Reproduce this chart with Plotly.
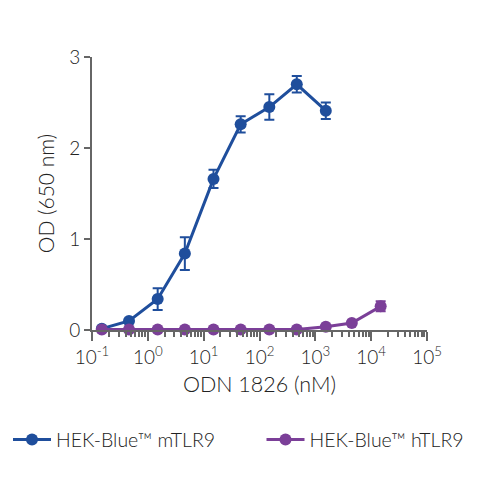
import plotly.graph_objects as go

# ODN 1826 concentration (nM)
conc = [0.15, 0.46, 1.5, 4.6, 15, 46, 150, 465, 1540, 4500, 14800]

mtlr9_od = [0.015, 0.10, 0.34, 0.84, 1.66, 2.26, 2.45, 2.70, 2.41]
mtlr9_err = [0.0, 0.0, 0.12, 0.18, 0.10, 0.09, 0.14, 0.09, 0.09]

htlr9_od = [0.005, 0.005, 0.005, 0.005, 0.005, 0.005, 0.005, 0.005, 0.035, 0.077, 0.26]
htlr9_err = [0, 0, 0, 0, 0, 0, 0, 0, 0, 0, 0.055]

x_tickvals = [0.1, 1, 10, 100, 1000, 10000, 100000]
x_ticktext = ['10<sup>-1</sup>', '10<sup>0</sup>', '10<sup>1</sup>', '10<sup>2</sup>',
              '10<sup>3</sup>', '10<sup>4</sup>', '10<sup>5</sup>']

blue = '#1f4e9c'
purple = '#7b3f98'
txt = '#222222'

fig = go.Figure()
fig.add_trace(go.Scatter(
    x=conc[:len(mtlr9_od)], y=mtlr9_od,
    mode='lines+markers', name='HEK-Blue™ mTLR9', legend='legend',
    line=dict(color=blue, width=3),
    marker=dict(color=blue, size=12),
    error_y=dict(type='data', array=mtlr9_err, color=blue, thickness=2, width=5),
    cliponaxis=False,
))
fig.add_trace(go.Scatter(
    x=conc, y=htlr9_od,
    mode='lines+markers', name='HEK-Blue™ hTLR9', legend='legend2',
    line=dict(color=purple, width=3),
    marker=dict(color=purple, size=12),
    error_y=dict(type='data', array=htlr9_err, color=purple, thickness=2, width=5),
    cliponaxis=False,
))

# page body adds ~8px offset, so the margins are set 8px smaller on top/left
legfont = dict(family='Lato', size=19.5, color=txt, weight=300)
fig.update_layout(
    width=500, height=501,
    margin=dict(l=84, r=81, t=49, b=179),
    plot_bgcolor='white', paper_bgcolor='white',
    font=dict(family='Lato', size=19, color=txt, weight=300),
    showlegend=True,
    legend=dict(orientation='h', x=0, xanchor='left', xref='container',
                y=0.138, yanchor='middle', yref='container', font=legfont, itemwidth=38),
    legend2=dict(orientation='h', x=0.507, xanchor='left', xref='container',
                 y=0.138, yanchor='middle', yref='container', font=legfont, itemwidth=38),
    xaxis=dict(
        type='log', range=[-1, 5], automargin=False,
        tickmode='array', tickvals=x_tickvals, ticktext=x_ticktext,
        showgrid=False, zeroline=False,
        showline=True, linecolor='#666666', linewidth=2,
        ticks='outside', ticklen=9, tickwidth=2, tickcolor='#666666',
        minor=dict(ticks='outside', ticklen=5, tickwidth=1.5, tickcolor='#666666', dtick='D1'),
        tickfont=dict(size=19),
        title=dict(text='ODN 1826 (nM)', font=dict(size=21.5), standoff=10),
    ),
    yaxis=dict(
        range=[0, 3], dtick=1, automargin=False,
        showgrid=False, zeroline=False,
        showline=True, linecolor='#666666', linewidth=2,
        ticks='outside', ticklen=6, tickwidth=2, tickcolor='#666666',
        tickfont=dict(size=19),
        title=dict(text='OD (650 nm)', font=dict(size=21), standoff=9),
    ),
)

fig.write_html('out.html')
